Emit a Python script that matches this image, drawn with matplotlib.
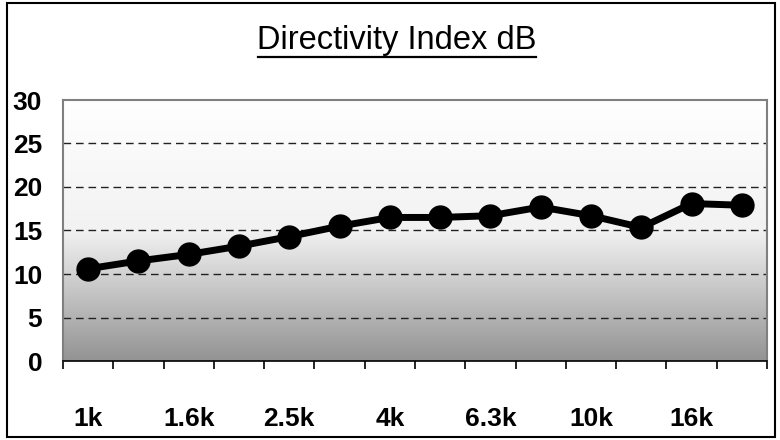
import numpy as np
from matplotlib import pyplot as plt
from matplotlib.patches import Rectangle
from matplotlib.colors import LinearSegmentedColormap

#data
freqs = ["1k", "1.25k", "1.6k", "2k", "2.5k", "3.15k", "4k", "5k",
         "6.3k", "8k", "10k", "12.5k", "16k", "20k"]
di_db = [10.6, 11.5, 12.25, 13.2, 14.3, 15.5, 16.5, 16.5,
         16.7, 17.7, 16.7, 15.35, 18.1, 17.9]
y_ticks = [0, 5, 10, 15, 20, 25, 30]

plt.rcParams['font.family'] = ['Liberation Sans', 'DejaVu Sans']

fig = plt.figure(figsize=(7.8, 4.4), dpi=100)
ax = fig.add_axes([63/780, 1 - 361/440, (767-63)/780, (361-100)/440])

#outer chart border
fig.patches.append(Rectangle((7/780, 3/440), 768/780, 434/440, transform=fig.transFigure,
                             fill=False, edgecolor="black", linewidth=1.5))

n = len(freqs)
x = np.arange(n)
ax.set_xlim(-0.5, n - 0.5)
ax.set_ylim(0, 30)

#gradient background white (top) -> gray (bottom)
cmap = LinearSegmentedColormap.from_list("g", ["#ffffff", "#f2f2f2", "#939393"], N=256)
grad = np.linspace(0, 1, 256).reshape(-1, 1)
ax.imshow(grad, cmap=cmap, extent=(-0.5, n - 0.5, 0, 30), aspect="auto", zorder=0,
          vmin=0, vmax=1, origin="upper")

#dashed grid lines
for v in y_ticks[1:-1]:
    ax.axhline(v, color="#222222", linewidth=1.0, dashes=(5.5, 3.5), zorder=1)

ax.plot(x, di_db, color="black", linewidth=5, marker="o", markersize=16.5, zorder=3)

for s in ax.spines.values():
    s.set_color("#808080")
    s.set_linewidth(1.5)
ax.spines["bottom"].set_color("black")
ax.spines["bottom"].set_linewidth(1.2)

ax.set_yticks(y_ticks)
ax.set_yticklabels([str(v) for v in y_ticks], fontsize=19, fontweight="bold")
ax.tick_params(axis="y", length=0, pad=15)

ax.set_xticks(x)
ax.set_xticklabels([f if i % 2 == 0 else "" for i, f in enumerate(freqs)],
                   fontsize=19, fontweight="bold")
ax.tick_params(axis="x", length=0, pad=33)
ax.set_xticks(np.arange(n + 1) - 0.5, minor=True)
ax.tick_params(axis="x", which="minor", length=5.5, width=1.2, color="black", direction="out")

fig.text(397/780, 1 - 40/440, "Directivity Index dB", ha="center", va="center",
         fontsize=23.5)
#underline under title
fig.add_artist(plt.Line2D([258/780, 536/780], [1 - 57.5/440, 1 - 57.5/440],
                          transform=fig.transFigure, color="black", linewidth=1.6))

fig.savefig("out.png", dpi=100)
